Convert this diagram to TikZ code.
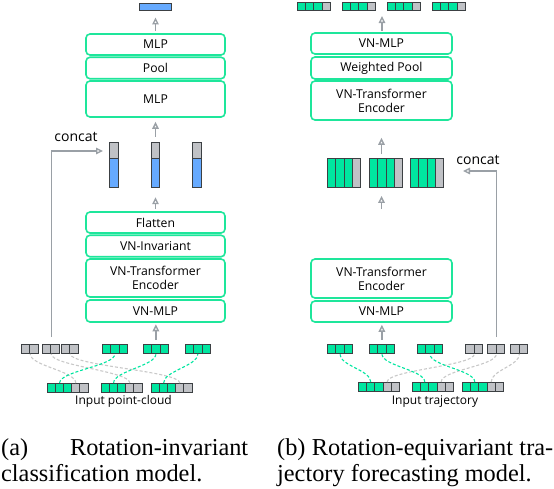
\documentclass[tikz,border=0pt]{standalone}
\usepackage{fontspec}
\setmainfont{Liberation Serif}
\newfontfamily\gsans{Open Sans}
\usetikzlibrary{arrows.meta}
\definecolor{mint}{RGB}{0,230,160}
\definecolor{boxgreen}{RGB}{30,230,155}
\definecolor{cellgray}{RGB}{192,194,198}
\definecolor{cellline}{RGB}{60,64,67}
\definecolor{arrowgray}{RGB}{154,160,166}
\definecolor{barblue}{RGB}{102,170,255}
\definecolor{dashgray}{RGB}{200,200,200}
\tikzset{
  blk/.style={draw=boxgreen, line width=1.6pt, rounded corners=4pt, fill=white, inner sep=0pt, align=center, minimum width=139, font=\gsans\fontsize{12.2}{14}\selectfont},
  rblk/.style={blk, minimum width=141},
  cellb/.style={draw=cellline, line width=0.9pt, inner sep=0pt},
  arr/.style={draw=arrowgray, line width=1.4pt, -{Triangle[open,length=7pt,width=6.5pt]}},
  gdash/.style={draw=mint, line width=1.1pt, dash pattern=on 3pt off 2pt},
  ydash/.style={draw=dashgray, line width=1.1pt, dash pattern=on 3pt off 2pt},
  lbl/.style={font=\gsans\fontsize{12}{14}\selectfont, inner sep=0pt, anchor=base},
  clbl/.style={font=\gsans\fontsize{14}{16}\selectfont, inner sep=0pt, anchor=base},
  captxt/.style={font=\fontsize{24.3}{26}\selectfont, inner sep=0pt, anchor=base west},
}
% name, x0, y0, cell w, cell h, colours
\newcommand\cellgrp[6]{%
  \foreach \cc [count=\ii from 0] in {#6} {%
    \node[cellb, fill=\cc, minimum width=#4, minimum height=#5, anchor=north west] (#1-\ii) at ({#2+\ii*#4},#3) {};
  }%
}
% name, centre x
\newcommand\vbar[2]{%
  \node[inner sep=0pt, minimum width=8.5, minimum height=45] (#1) at (#2,164.5) {};
  \draw[cellb, fill=cellgray] ({#2-4.25},142) rectangle ({#2+4.25},158);
  \draw[cellb, fill=barblue] ({#2-4.25},158) rectangle ({#2+4.25},187);
}
\begin{document}
\begin{tikzpicture}[x=1pt,y=-1pt]
\useasboundingbox (0,0) rectangle (554,488);

% ---------------- left panel ----------------
\node[blk, minimum height=21] (lmlp3) at (155.5,44.5) {MLP};
\node[blk, minimum height=21.5] (lpool) at (155.5,68) {Pool};
\node[blk, minimum height=36] (lmlp2) at (155.5,99) {MLP};
\node[blk, minimum height=21] (lflat) at (155.5,222.5) {Flatten};
\node[blk, minimum height=21.5] (linv) at (155.5,246) {VN-Invariant};
\node[blk, minimum height=38] (lenc) at (155.5,278) {VN-Transformer\\Encoder};
\node[blk, minimum height=22] (lvnmlp) at (155.5,311) {VN-MLP};

\node[cellb, fill=barblue, minimum width=32, minimum height=7] (lout) at (155,6.5) {};

\vbar{lbar1}{114}
\vbar{lbar2}{155.5}
\vbar{lbar3}{197}

\cellgrp{lP1}{21}{344}{8.3}{9}{cellgray,cellgray}
\cellgrp{lP2}{42}{344}{8.3}{9}{cellgray,cellgray}
\cellgrp{lP3}{61}{344}{8.3}{9}{cellgray,cellgray}
\cellgrp{lT1}{102}{344}{8.3}{9}{mint,mint,mint}
\cellgrp{lT2}{143}{344}{8.3}{9}{mint,mint,mint}
\cellgrp{lT3}{185}{344}{8.3}{9}{mint,mint,mint}

\cellgrp{lG1}{47}{383}{8.1}{9}{mint,mint,mint,cellgray,cellgray}
\cellgrp{lG2}{101}{383}{8.1}{9}{mint,mint,mint,cellgray,cellgray}
\cellgrp{lG3}{151}{383}{8.1}{9}{mint,mint,mint,cellgray,cellgray}

\node[lbl] (lin) at (123.5,404) {Input point-cloud};
\node[clbl] (lconcat) at (76,141) {concat};

% dashed links left
\draw[ydash] (lG1-3.north) .. controls +(0,-12) and +(0,12) .. (lP1-0.south east);
\draw[ydash] (lG2-3.north) .. controls +(0,-12) and +(0,12) .. (lP2-0.south east);
\draw[ydash] (lG3-3.north) .. controls +(0,-12) and +(0,12) .. (lP3-0.south east);
\draw[gdash] (lG1-1.north) .. controls +(0,-12) and +(0,12) .. (lT1-1.south);
\draw[gdash] (lG2-1.north) .. controls +(0,-12) and +(0,12) .. (lT2-1.south);
\draw[gdash] (lG3-1.north) .. controls +(0,-12) and +(0,12) .. (lT3-1.south);

% arrows left
\draw[arr, shorten <=4pt, shorten >=1.5pt] (lT2-1.north) -- (lT2-1.north |- lvnmlp.south);
\draw[arr, shorten <=2pt, shorten >=10pt] (lflat.north) -- (lflat.north |- lbar2.south);
\draw[arr, shorten <=5pt, shorten >=4pt] (lbar2.north) -- (lbar2.north |- lmlp2.south);
\draw[arr, shorten <=2pt, shorten >=7pt] (lmlp3.north) -- (lmlp3.north |- lout.south);
\coordinate (lcat) at (103,151);
\draw[arr, shorten <=7pt] (lP2-0.north east) |- (lcat);

% ---------------- right panel ----------------
\node[rblk, minimum height=21] (rvnmlp) at (381.5,43.5) {VN-MLP};
\node[rblk, minimum height=22] (rpool) at (381.5,68) {Weighted Pool};
\node[rblk, minimum height=39] (renc) at (381.5,100.5) {VN-Transformer\\Encoder};
\node[rblk, minimum height=39] (renc2) at (381.5,278.5) {VN-Transformer\\Encoder};
\node[rblk, minimum height=21] (rvnmlp2) at (381.5,311.5) {VN-MLP};

\cellgrp{rO1}{297}{2}{8.2}{7.5}{mint,mint,mint,cellgray}
\cellgrp{rO2}{342}{2}{8.2}{7.5}{mint,mint,mint,cellgray}
\cellgrp{rO3}{387}{2}{8.2}{7.5}{mint,mint,mint,cellgray}
\cellgrp{rO4}{432}{2}{8.2}{7.5}{mint,mint,mint,cellgray}

\cellgrp{rB1}{327}{158}{8.3}{29}{mint,mint,mint,cellgray}
\cellgrp{rB2}{369}{158}{8.3}{29}{mint,mint,mint,cellgray}
\cellgrp{rB3}{410}{158}{8.3}{29}{mint,mint,mint,cellgray}

\cellgrp{rR1}{327}{344}{8.3}{9}{mint,mint,mint}
\cellgrp{rR2}{369}{344}{8.3}{9}{mint,mint,mint}
\cellgrp{rR3}{417}{344}{8.3}{9}{mint,mint,mint}
\cellgrp{rQ1}{465}{344}{8.5}{9}{cellgray,cellgray}
\cellgrp{rQ2}{487}{344}{8.5}{9}{cellgray,cellgray}
\cellgrp{rQ3}{510}{344}{8.5}{9}{cellgray,cellgray}

\cellgrp{rH1}{358}{382}{8.2}{9}{mint,mint,mint,cellgray,cellgray}
\cellgrp{rH2}{412}{382}{8.2}{9}{mint,mint,mint,cellgray,cellgray}
\cellgrp{rH3}{462}{382}{8.2}{9}{mint,mint,mint,cellgray,cellgray}

\node[lbl] (rin) at (435,404) {Input trajectory};
\node[clbl] (rconcat) at (478,164) {concat};

% dashed links right
\draw[ydash] (rH1-3.north) .. controls +(0,-12) and +(0,12) .. (rQ1-0.south east);
\draw[ydash] (rH2-3.north) .. controls +(0,-12) and +(0,12) .. (rQ2-0.south east);
\draw[ydash] (rH3-3.north) .. controls +(0,-12) and +(0,12) .. (rQ3-0.south east);
\draw[gdash] (rH1-1.north) .. controls +(0,-12) and +(0,12) .. (rR1-1.south);
\draw[gdash] (rH2-1.north) .. controls +(0,-12) and +(0,12) .. (rR2-1.south);
\draw[gdash] (rH3-1.north) .. controls +(0,-12) and +(0,12) .. (rR3-1.south);

% arrows right
\draw[arr, shorten <=4pt, shorten >=2pt] (rR2-1.north) -- (rR2-1.north |- rvnmlp2.south);
\draw[arr, shorten <=49pt, shorten >=8pt] (renc2.north) -- (renc2.north |- rB2-1.south);
\draw[arr, shorten <=4pt, shorten >=17pt] (renc.south |- rB2-1.north) -- (renc.south);
\coordinate (rtop) at (382,9.5);
\draw[arr, shorten <=1pt, shorten >=6.5pt] (rvnmlp.north -| rtop) -- (rtop);
\coordinate (rcat) at (463,171);
\draw[arr, shorten <=7pt] (rQ2-0.north east) |- (rcat);

% ---------------- captions ----------------
\node[captxt] (capa1) at (1,455) {\makebox[247pt][s]{(a) Rotation-invariant}};
\node[captxt] (capa2) at (1,481) {classification model.};
\node[captxt] (capb1) at (277,455) {\makebox[276pt][s]{(b) Rotation-equivariant tra-}};
\node[captxt] (capb2) at (277,481) {jectory forecasting model.};
\end{tikzpicture}
\end{document}
